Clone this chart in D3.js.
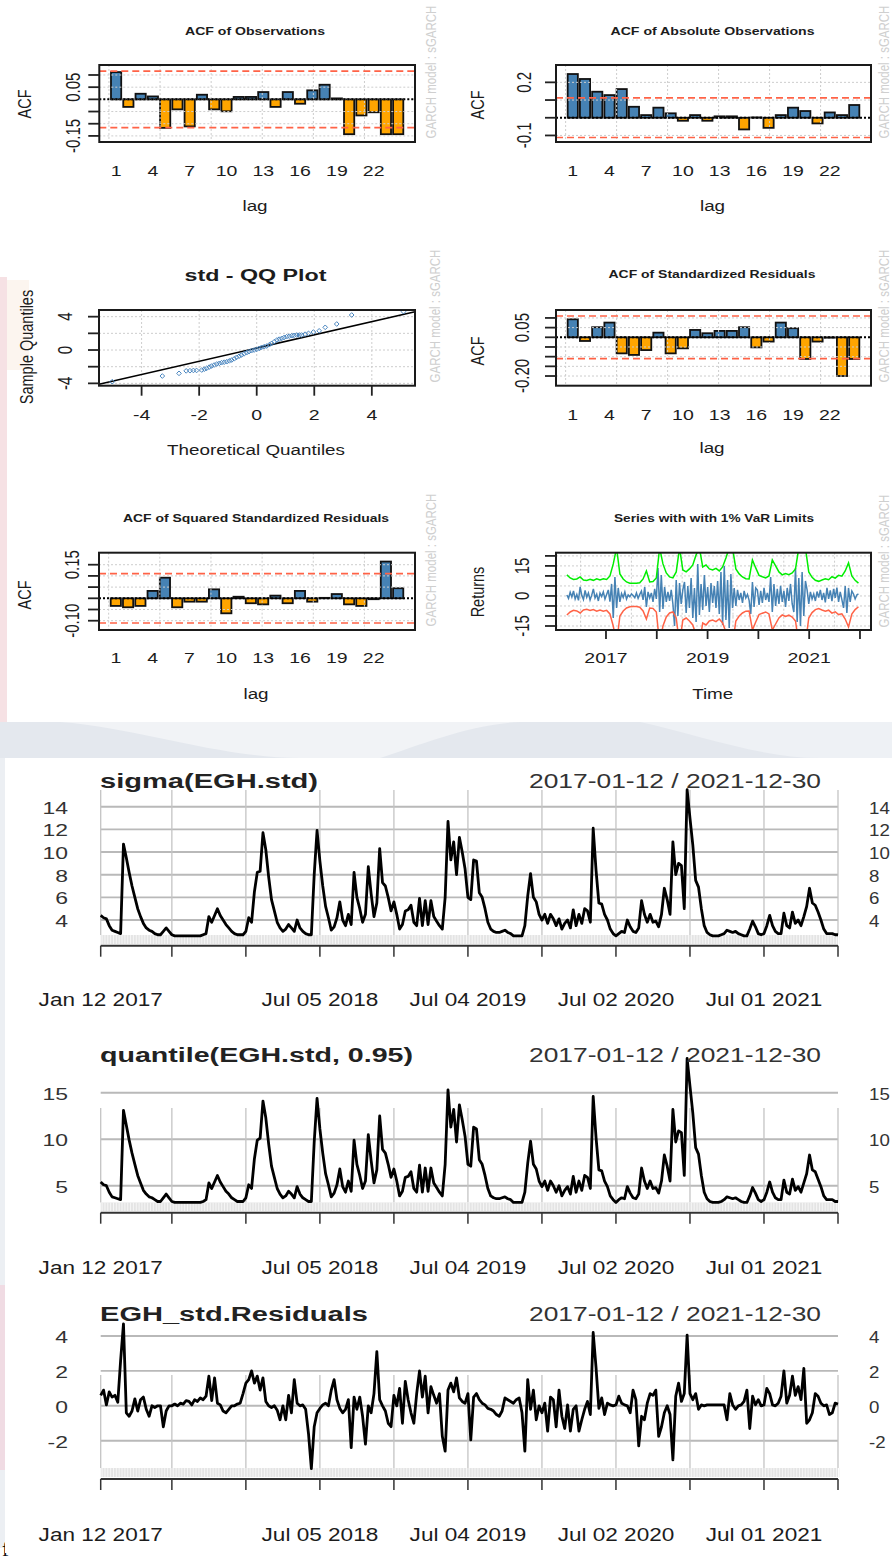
<!DOCTYPE html>
<html>
<head>
<meta charset="utf-8">
<title>EGH std GARCH diagnostics</title>
<script src="https://cdn.jsdelivr.net/npm/d3@7/dist/d3.min.js"></script>
<style>
  body { margin: 0; background: #fff; }
  svg { display: block; font-family: "Liberation Sans", Arial, Helvetica, sans-serif; }
</style>
</head>
<body>
<div id="chart"></div>
<script>
// ---------- data ----------
var lagsShown = [1, 4, 7, 10, 13, 16, 19, 22];
var acfObs = [0.112, -0.031, 0.023, 0.012, -0.117, -0.041, -0.111, 0.019, -0.041, -0.049, 0.010, 0.010,
              0.030, -0.031, 0.030, -0.018, 0.037, 0.060, 0.004, -0.143, -0.066, -0.053, -0.143, -0.143];
var acfAbs = [0.247, 0.219, 0.147, 0.128, 0.162, 0.062, 0.015, 0.057, 0.025, -0.017, 0.015, -0.017,
              0.008, 0.008, -0.066, 0.002, -0.057, 0.015, 0.057, 0.038, -0.032, 0.030, 0.015, 0.072];
var acfStdRes = [0.093, -0.019, 0.052, 0.076, -0.083, -0.091, -0.066, 0.024, -0.083, -0.057, 0.038, 0.021,
                 0.033, 0.033, 0.052, -0.052, -0.022, 0.076, 0.047, -0.112, -0.022, -0.002, -0.200, -0.112];
var acfSqStdRes = [-0.034, -0.040, -0.034, 0.033, 0.092, -0.040, -0.015, -0.015, 0.040, -0.067, 0.007, -0.022,
                   -0.027, 0.012, -0.022, 0.033, -0.015, 0.002, 0.019, -0.027, -0.034, -0.004, 0.164, 0.045];

var qqTheoretical = [-5.02, -3.28, -2.70, -2.45, -2.32, -2.2, -2.09, -1.91, -1.82, -1.74, -1.65, -1.57, -1.48, -1.39,
                     -1.30, -1.22, -1.13, -1.04, -0.95, -0.87, -0.78, -0.70, -0.61, -0.53, -0.44, -0.35, -0.27, -0.18,
                     -0.09, 0, 0.09, 0.17, 0.26, 0.35, 0.44, 0.52, 0.61, 0.70, 0.78, 0.87, 0.95, 1.04, 1.13, 1.22,
                     1.30, 1.39, 1.48, 1.56, 1.68, 1.80, 1.97, 2.17, 2.38, 2.78, 3.30, 5.10];
var qqSample = [-3.8, -3.12, -2.8, -2.5, -2.48, -2.45, -2.45, -2.4, -2.3, -2.2, -2.05, -1.92, -1.8, -1.68,
                -1.6, -1.52, -1.46, -1.4, -1.3, -1.2, -1.05, -0.88, -0.74, -0.6, -0.46, -0.32, -0.2, -0.08,
                0.0, 0.08, 0.2, 0.32, 0.4, 0.48, 0.64, 0.8, 1.0, 1.2, 1.3, 1.4, 1.5, 1.6, 1.66, 1.72,
                1.76, 1.8, 1.8, 1.8, 1.9, 2.0, 2.16, 2.3, 2.72, 3.12, 4.2, 4.6];
var qqLineEnds = [[-5.48, -4.1], [5.5, 4.6]];

var varSpan = [2016.23, 2021.97];
var varUpper = [10.5, 9.0, 8.2, 8.5, 9.5, 8.0, 7.7, 8.3, 7.8, 8.6,
                8.0, 8.6, 8.2, 10.0, 16.0, 24, 11.0, 8.5, 7.0, 6.4,
                6.3, 6.3, 6.6, 8.5, 12.5, 7.0, 7.2, 9.0, 24, 16.0,
                11.5, 9.5, 9.0, 12.0, 24, 13.0, 12.0, 13.5, 15.5, 20.5,
                24, 14.5, 15.5, 13.5, 13.0, 13.8, 12.5, 14.5, 19.0, 24,
                24, 13.5, 11.0, 9.5, 8.6, 8.5, 18.0, 14.0, 10.3, 9.6,
                9.0, 10.0, 18.0, 15.0, 12.0, 10.5, 11.2, 10.6, 11.5, 13.5,
                24, 24, 24, 12.0, 9.3, 7.8, 7.3, 8.0, 8.6, 8.1,
                9.6, 8.9, 10.3, 9.9, 12.5, 16.5, 10.0, 7.8, 6.4];
var varLower = [-9.5, -8.0, -7.2, -7.5, -8.5, -7.0, -6.7, -7.3, -6.8, -7.6,
                -7.0, -7.6, -7.2, -9.0, -15.0, -24, -10.0, -7.5, -6.0, -5.4,
                -5.3, -5.3, -5.6, -7.5, -11.5, -6.0, -6.2, -8.0, -24, -15.0,
                -10.5, -8.5, -8.0, -11.0, -24, -12.0, -11.0, -12.5, -14.5, -19.5,
                -24, -13.5, -14.5, -12.5, -12.0, -12.8, -11.5, -13.5, -18.0, -24,
                -24, -12.5, -10.0, -8.5, -7.6, -7.5, -17.0, -13.0, -9.3, -8.6,
                -8.0, -9.0, -17.0, -14.0, -11.0, -9.5, -10.2, -9.6, -10.5, -12.5,
                -24, -24, -24, -11.0, -8.3, -6.8, -6.3, -7.0, -7.6, -7.1,
                -8.6, -7.9, -9.3, -8.9, -11.5, -15.5, -9.0, -6.8, -5.4];
var varReturns = [0.5, -1.2, 1.8, -0.5, 2.5, -1.5, 0.8, -2.2, 4.5, 0.3, -1.8, 2.8, -0.6, 1.5, -2.0, 0.4, 3.5, -1.0,
                  0.9, -2.5, 1.4, -0.3, 2.0, -1.6, 0.7, 3.0, -2.8,
                  6.0, -11.0, 9.5, -6.0, 4.0, -3.0,
                  1.2, -0.8, 2.0, -1.5, 0.5, -0.4, 1.0, 0.2, -0.9, 1.5, -1.2, 0.8, 2.4, -2.0,
                  4.5, -5.5, 2.0, -1.0, 1.5, -3.0, 3.5, -1.5,
                  14.0, -8.0, 10.5, -6.5, 4.5, -3.0, 2.0, -2.5, 3.0, -4.0,
                  -15.0, 8.0, -10.0, 6.5, -4.0, 3.0,
                  7.0, -8.5, 5.0, -6.0, 9.0, -11.0, 4.0, -13.0, 16.0, -9.5, 6.0, -7.0, 10.5, -5.0, 4.5,
                  -8.0, 6.5, -3.5, 5.0, -6.0, 7.5, -9.0, 12.0, -14.5, 15.0, -12.0, 8.0, -16.0, 11.0, -6.0,
                  4.0, -5.0, 3.0, -2.0, 1.5, -3.5, 2.5, -1.0, 0.8, -2.2,
                  -9.0, 7.0, -5.5, 4.0, 3.0, -4.5, 2.5, -3.5, 4.0, -2.0, 1.5, -3.0,
                  9.5, -8.0, 6.0, -5.0, 3.5, -4.0, 5.0, -3.0, 2.5, -5.5, 4.0, -2.5, 6.0, -4.0,
                  -8.0, 14.0, -13.0, 9.0, -15.0, 12.0, -10.0, 7.5,
                  3.0, -4.0, 2.0, -1.5, 1.0, -2.5, 2.2, -0.8, 3.0, -2.0, 1.5, -3.2, 4.0, -1.5, 2.8, -2.6,
                  3.5, -1.0, 4.2, -3.0, 2.0, -1.8,
                  -6.0, 5.0, -8.5, 4.0, -3.0, 2.5, 1.0, -1.5, 0.5, 1.0];
var varYearTicks = [2017, 2018, 2019, 2020, 2021, 2022];
var varYearLabels = [2017, 2019, 2021];

// weekly series 2017-01-12 .. 2021-12-30
var xtsStart = "2017-01-12";
var sigmaVals = [4.4, 4.2, 4.1, 3.5, 3.1, 3.0, 2.9, 2.8, 10.7, 9.5,
  8.2, 7.0, 6.0, 5.0, 4.3, 3.7, 3.3, 3.1, 3.0, 2.8,
  2.7, 2.7, 3.0, 3.3, 3.0, 2.7, 2.6, 2.6, 2.6, 2.6,
  2.6, 2.6, 2.6, 2.6, 2.6, 2.6, 2.7, 2.8, 4.3, 3.8,
  4.4, 5.0, 4.4, 4.0, 3.6, 3.3, 3.0, 2.8, 2.7, 2.7,
  2.7, 3.0, 4.2, 3.8, 6.5, 8.2, 8.3, 11.7, 10.2, 7.8,
  5.8, 4.8, 3.8, 3.3, 3.0, 3.2, 3.6, 3.3, 3.0, 4.0,
  3.3, 3.0, 2.8, 2.7, 2.7, 8.0, 11.9, 9.2, 7.0, 5.2,
  4.2, 3.1, 3.4, 4.2, 5.6, 4.0, 3.5, 4.5, 3.6, 8.2,
  6.0, 5.0, 3.8, 4.5, 8.7, 6.3, 4.3, 5.5, 10.3, 7.3,
  7.0, 6.0, 4.8, 5.6, 4.5, 3.2, 3.6, 4.8, 4.9, 5.3,
  3.8, 3.5, 5.9, 3.5, 5.7, 3.6, 5.7, 4.3, 3.9, 3.5,
  3.2, 6.0, 12.7, 9.3, 10.9, 8.0, 11.3, 10.0, 8.5, 6.0,
  5.8, 9.3, 9.2, 6.4, 6.0, 5.0, 3.8, 3.2, 3.0, 2.9,
  2.9, 3.0, 3.1, 2.9, 2.8, 2.6, 2.6, 2.6, 2.6, 3.5,
  6.1, 8.1, 6.0, 5.6, 4.5, 4.0, 4.5, 3.7, 4.5, 4.1,
  3.5, 4.1, 3.2, 3.7, 4.0, 3.3, 4.9, 3.5, 4.5, 3.7,
  5.0, 4.8, 3.8, 12.1, 8.4, 5.5, 5.4, 4.5, 4.0, 3.2,
  2.8, 2.6, 2.8, 3.0, 2.9, 4.0, 3.4, 3.0, 2.9, 3.3,
  5.7, 4.5, 3.8, 4.5, 3.8, 3.9, 3.4, 4.5, 6.8, 5.8,
  4.5, 10.9, 8.0, 9.0, 8.8, 5.0, 15.5, 13.0, 10.6, 7.5,
  6.9, 5.0, 3.5, 2.9, 2.7, 2.6, 2.6, 2.6, 2.7, 2.8,
  3.1, 3.0, 2.9, 3.0, 2.8, 2.7, 2.6, 2.6, 3.2, 3.9,
  3.4, 2.8, 2.7, 2.8, 3.5, 4.4, 3.5, 3.0, 2.8, 2.8,
  4.6, 3.5, 3.3, 4.7, 3.7, 4.0, 3.5, 4.3, 5.2, 6.8,
  5.5, 5.3, 4.7, 4.0, 3.2, 2.8, 2.8, 2.8, 2.7, 2.7];
var quantileVals = [5.4, 5.1, 5.0, 4.3, 3.8, 3.7, 3.6, 3.5, 13.1, 11.5,
  9.9, 8.5, 7.3, 6.1, 5.3, 4.5, 4.1, 3.8, 3.7, 3.5,
  3.3, 3.3, 3.7, 4.1, 3.7, 3.3, 3.2, 3.2, 3.2, 3.2,
  3.2, 3.2, 3.2, 3.2, 3.2, 3.2, 3.3, 3.5, 5.3, 4.7,
  5.4, 6.1, 5.4, 4.9, 4.4, 4.1, 3.7, 3.5, 3.3, 3.3,
  3.3, 3.7, 5.1, 4.7, 7.9, 9.9, 10.1, 14.1, 12.3, 9.5,
  7.1, 5.9, 4.7, 4.1, 3.7, 3.9, 4.4, 4.1, 3.7, 4.9,
  4.1, 3.7, 3.5, 3.3, 3.3, 9.7, 14.4, 11.1, 8.5, 6.3,
  5.1, 3.8, 4.2, 5.1, 6.8, 4.9, 4.3, 5.5, 4.4, 9.9,
  7.3, 6.1, 4.7, 5.5, 10.5, 7.7, 5.3, 6.7, 12.5, 8.9,
  8.5, 7.3, 5.9, 6.8, 5.5, 3.9, 4.4, 5.9, 6.0, 6.5,
  4.7, 4.3, 7.2, 4.3, 6.9, 4.4, 6.9, 5.3, 4.8, 4.3,
  3.9, 7.3, 15.3, 11.3, 13.2, 9.7, 13.7, 12.1, 10.3, 7.3,
  7.1, 11.3, 11.1, 7.8, 7.3, 6.1, 4.7, 3.9, 3.7, 3.6,
  3.6, 3.7, 3.8, 3.6, 3.5, 3.2, 3.2, 3.2, 3.2, 4.3,
  7.4, 9.8, 7.3, 6.8, 5.5, 4.9, 5.5, 4.5, 5.5, 5.0,
  4.3, 5.0, 3.9, 4.5, 4.9, 4.1, 6.0, 4.3, 5.5, 4.5,
  6.1, 5.9, 4.7, 14.6, 10.2, 6.7, 6.6, 5.5, 4.9, 3.9,
  3.5, 3.2, 3.5, 3.7, 3.6, 4.9, 4.2, 3.7, 3.6, 4.1,
  6.9, 5.5, 4.7, 5.5, 4.7, 4.8, 4.2, 5.5, 8.3, 7.1,
  5.5, 13.2, 9.7, 10.9, 10.7, 6.1, 18.7, 15.7, 12.8, 9.1,
  8.4, 6.1, 4.3, 3.6, 3.3, 3.2, 3.2, 3.2, 3.3, 3.5,
  3.8, 3.7, 3.6, 3.7, 3.5, 3.3, 3.2, 3.2, 3.9, 4.8,
  4.2, 3.5, 3.3, 3.5, 4.3, 5.4, 4.3, 3.7, 3.5, 3.5,
  5.6, 4.3, 4.1, 5.7, 4.5, 4.9, 4.3, 5.3, 6.3, 8.3,
  6.7, 6.5, 5.7, 4.9, 3.9, 3.5, 3.5, 3.5, 3.3, 3.3];
var residualVals = [0.6, 0.9, 0.05, 0.8, 0.5, 0.6, 0.2, 2.6, 4.7, -0.4,
  -0.6, -0.3, 0.4, -0.3, 0.35, 0.5, -0.2, -0.6, 0, -0.1,
  0, 0, -1.2, -0.3, 0, 0, 0.1, 0, 0.15, 0.1,
  0.3, 0.25, 0.05, 0.35, 0.25, 0.45, 0.35, 0.55, 1.7, 0.3,
  1.6, 0.15, 0.05, -0.3, -0.4, -0.2, 0, 0, 0.1, 0.15,
  0.7, 1.3, 1.5, 2.0, 1.3, 1.7, 0.9, 1.6, 0.25, 0,
  -0.1, 0, -0.25, -0.8, 0, -0.8, 0.6, -0.4, 1.5, 0.15,
  0, 0.05, -0.2, -1.6, -3.6, -1.2, -0.4, -0.15, 0.05, 0.15,
  0, 0.9, 1.5, 0.35, -0.15, -0.4, -0.2, 0.35, -2.4, 0.5,
  -0.2, 0.5, -0.6, -2.2, 0, -0.4, 0.7, 3.1, 0.35, 0,
  -0.3, -1.0, -1.2, 0.6, 0, 1.0, -1.0, 1.4, 0.35, -0.4,
  -1.0, 0.7, 2.0, 0.5, 1.7, -0.4, 1.1, 0.6, 0.15, 0.7,
  -1.75, -2.6, 0.9, 1.3, 0.8, 1.6, 0.45, 0.25, 0.15, 0.7,
  -1.95, 0.5, 0.7, 0.35, 0.15, 0.05, -0.15, -0.2, -0.3, -0.5,
  -0.6, -0.3, 0.45, 0.35, 0.25, 0.15, 0.35, 0.45, -0.4, -2.6,
  1.5, -0.2, 0.9, -0.8, 0, -0.4, 0.15, -1.45, 0.5, 0.35,
  -1.2, 0.9, -0.6, -1.3, 0.05, -1.45, -0.2, 0, -1.45, -0.8,
  -0.2, 0.25, -0.5, 4.2, 2.2, -0.15, 0.45, -0.5, 0.15, 0.05,
  0, 0.05, 0.55, 0.15, 0.05, 0, -0.4, 0.9, 0.35, -2.3,
  -0.6, -0.8, 0.15, 0.7, 0.6, 0.9, -1.75, -1.2, -0.4, 0,
  -0.5, -3.1, 0.55, 1.3, 0.25, 0.7, 4.05, 0.7, 0.35, 0.7,
  -0.2, 0.05, 0, 0.05, 0.05, 0.05, 0.05, 0.05, 0.05, 0.05,
  -0.8, 0.7, 0.05, -0.2, 0, 0.05, 0.25, 0.9, -1.3, 0.55,
  0.05, 0.35, 0, 0.05, 1.0, 0.7, 0.05, 0, 0.15, 0.55,
  2.0, 0.15, 0.6, 1.7, 0.6, 1.1, 0.35, 2.15, -1.0, -0.8,
  -0.4, 0.7, 0.55, 0.15, 0, 0.05, -0.5, -0.4, 0.15, 0.1];
var xtsTickDates = ["2017-01-12", "2017-07-06", "2018-01-04", "2018-07-05", "2019-01-03", "2019-07-04",
                    "2020-01-02", "2020-07-02", "2020-12-31", "2021-07-01", "2021-12-30"];
var xtsLabelDates = ["2017-01-12", "2018-07-05", "2019-07-04", "2020-07-02", "2021-07-01"];

// ---------- drawing ----------
var svg = d3.select("#chart").append("svg")
    .attr("width", 892)
    .attr("height", 1560);

// text is stretched sideways like in the pasted screenshot
function addText(g, x, y, s, o) {
    o = o || {};
    var sx = o.sx === undefined ? 1.3 : o.sx;
    var tr = `translate(${x},${y}) scale(${sx},1)` + (o.rot ? ` rotate(${o.rot})` : "");
    var t = g.append("text")
        .attr("transform", tr)
        .attr("text-anchor", o.anchor || "middle")
        .style("font-size", (o.size || 14) + "px")
        .style("font-weight", o.weight || "normal")
        .attr("fill", o.fill || "#1c1c1c")
        .text(s);
    if (o.len) t.attr("textLength", o.len / sx).attr("lengthAdjust", "spacingAndGlyphs");
    return t;
}
var minus = function(s) { return s.replace("\u2212", "-"); };

// page behind the two images
var bg = svg.append("g");
bg.append("rect").attr("width", 892).attr("height", 1560).attr("fill", "#fff");
bg.append("rect").attr("x", 0).attr("y", 277).attr("width", 7).attr("height", 445).attr("fill", "#f6e1e4");
bg.append("rect").attr("x", 7).attr("y", 280).attr("width", 22).attr("height", 90).attr("fill", "#fbf1e8").attr("opacity", 0.7);
bg.append("rect").attr("x", 0).attr("y", 722).attr("width", 892).attr("height", 36).attr("fill", "#e4e8ee");
bg.append("path").attr("d", "M60,722 C140,728 220,758 300,758 L380,758 C420,745 470,724 520,722 Z").attr("fill", "#f1f3f6");
bg.append("path").attr("d", "M640,722 C700,735 760,758 820,758 L892,758 L892,722 Z").attr("fill", "#eef1f5");
bg.append("rect").attr("x", 0).attr("y", 758).attr("width", 5).attr("height", 790).attr("fill", "#eceff3");
bg.append("rect").attr("x", 0).attr("y", 1285).attr("width", 5).attr("height", 185).attr("fill", "#f0dbe3");
bg.append("text").attr("x", 2).attr("y", 1556).style("font-family", "'Liberation Serif', serif")
    .style("font-size", "21px").attr("fill", "#111").text("f");

// ----- rugarch style ACF panel -----
function acfPanel(vals, p) {
    var g = svg.append("g");
    var x = d3.scaleLinear().domain([-0.944, 29.944]).range([p.x0, p.x1]);
    var y = d3.scaleLinear().domain(p.ydom).range([p.y1, p.y0]);
    var fmt = d3.format(p.fmt);

    g.selectAll(".bar").data(vals).join("rect")
        .attr("x", (d, i) => x(0.2 + 1.2 * i))
        .attr("width", x(1) - x(0))
        .attr("y", d => y(Math.max(d, 0)))
        .attr("height", d => Math.abs(y(d) - y(0)))
        .attr("fill", d => d >= 0 ? "#4682b4" : "#ffa500")
        .attr("stroke", "#111")
        .attr("stroke-width", 1.8);

    // grid
    g.selectAll(".vg").data([0, 5, 10, 15, 20, 25]).join("line")
        .attr("x1", d => x(d)).attr("x2", d => x(d))
        .attr("y1", p.y0).attr("y2", p.y1)
        .attr("stroke", "#cdcdcd").attr("stroke-dasharray", "2,2");
    g.selectAll(".hg").data(p.ticks).join("line")
        .attr("x1", p.x0).attr("x2", p.x1)
        .attr("y1", d => y(d)).attr("y2", d => y(d))
        .attr("stroke", "#cdcdcd").attr("stroke-dasharray", "2,2");

    g.selectAll(".cl").data([p.clim, -p.clim]).join("line")
        .attr("x1", p.x0).attr("x2", p.x1)
        .attr("y1", d => y(d)).attr("y2", d => y(d))
        .attr("stroke", "#ff6347").attr("stroke-width", 1.6).attr("stroke-dasharray", "7,4");
    g.append("line")
        .attr("x1", p.x0).attr("x2", p.x1).attr("y1", y(0)).attr("y2", y(0))
        .attr("stroke", "#000").attr("stroke-width", 2).attr("stroke-dasharray", "2,2");

    g.append("rect").attr("x", p.x0).attr("y", p.y0)
        .attr("width", p.x1 - p.x0).attr("height", p.y1 - p.y0)
        .attr("fill", "none").attr("stroke", "#1a1a1a").attr("stroke-width", 2);

    g.selectAll(".yt").data(p.ticks).join("line")
        .attr("x1", p.x0 - 11).attr("x2", p.x0)
        .attr("y1", d => y(d)).attr("y2", d => y(d))
        .attr("stroke", "#222").attr("stroke-width", 1.8);
    p.shown.forEach(function(v) {
        addText(g, p.tickX, y(v), minus(fmt(v)), {size: 15, rot: -90});
    });
    lagsShown.forEach(function(l) {
        addText(g, x(0.7 + 1.2 * (l - 1)), p.lagY, String(l), {size: 15});
    });
    addText(g, p.tx, p.ty, p.title, {size: 10.5, weight: "bold", sx: 1, len: p.tlen});
    addText(g, p.tx, p.xlabY, "lag", {size: 14.5});
    addText(g, p.ylabX, p.ylabY, "ACF", {size: 14.5, rot: -90});
    addText(g, p.wmX, p.wmY, "GARCH model : sGARCH", {size: 11.5, rot: -90, fill: "#cfcfcf"});
}

acfPanel(acfObs, {x0: 99.3, x1: 415, y0: 65, y1: 142, ydom: [-0.175, 0.141], fmt: ".2f",
    ticks: [0.10, 0.05, 0, -0.05, -0.10, -0.15], shown: [0.05, -0.15], clim: 0.116,
    title: "ACF of Observations", tx: 255, ty: 35, tlen: 140, lagY: 176, xlabY: 211,
    ylabX: 31, ylabY: 104, tickX: 80, wmX: 436, wmY: 72});
acfPanel(acfAbs, {x0: 556, x1: 871, y0: 65, y1: 142, ydom: [-0.137, 0.298], fmt: ".1f",
    ticks: [0.2, 0.1, 0, -0.1], shown: [0.2, -0.1], clim: 0.112,
    title: "ACF of Absolute Observations", tx: 712.5, ty: 35, tlen: 204, lagY: 176, xlabY: 211,
    ylabX: 484, ylabY: 105, tickX: 531, wmX: 889, wmY: 72});
acfPanel(acfStdRes, {x0: 556, x1: 871, y0: 310, y1: 385.7, ydom: [-0.250, 0.141], fmt: ".2f",
    ticks: [0.10, 0.05, 0, -0.05, -0.10, -0.15, -0.20], shown: [0.05, -0.20], clim: 0.11,
    title: "ACF of Standardized Residuals", tx: 712, ty: 278, tlen: 207, lagY: 420, xlabY: 453,
    ylabX: 484, ylabY: 351, tickX: 529, wmX: 889, wmY: 316});
acfPanel(acfSqStdRes, {x0: 99, x1: 415, y0: 552.7, y1: 630, ydom: [-0.1415, 0.2036], fmt: ".2f",
    ticks: [0.15, 0.10, 0.05, 0, -0.05, -0.10], shown: [0.15, -0.10], clim: 0.11,
    title: "ACF of Squared Standardized Residuals", tx: 256, ty: 522, tlen: 266, lagY: 663, xlabY: 699,
    ylabX: 31, ylabY: 595, tickX: 79, wmX: 436, wmY: 560});

// ----- QQ plot -----
(function() {
    var g = svg.append("g");
    var b = {x0: 99, x1: 415, y0: 310, y1: 385.7};
    var x = d3.scaleLinear().domain([-5.48, 5.5]).range([b.x0, b.x1]);
    var y = d3.scaleLinear().domain([-4.28, 4.8]).range([b.y1, b.y0]);
    var ticks = [-4, -2, 0, 2, 4];
    g.selectAll(".vg").data(ticks).join("line")
        .attr("x1", d => x(d)).attr("x2", d => x(d)).attr("y1", b.y0).attr("y2", b.y1)
        .attr("stroke", "#cdcdcd").attr("stroke-dasharray", "2,2");
    g.selectAll(".hg").data(ticks).join("line")
        .attr("x1", b.x0).attr("x2", b.x1).attr("y1", d => y(d)).attr("y2", d => y(d))
        .attr("stroke", "#cdcdcd").attr("stroke-dasharray", "2,2");
    g.append("line")
        .attr("x1", x(qqLineEnds[0][0])).attr("y1", y(qqLineEnds[0][1]))
        .attr("x2", x(qqLineEnds[1][0])).attr("y2", y(qqLineEnds[1][1]))
        .attr("stroke", "#000").attr("stroke-width", 1.5);
    var diamond = d3.symbol().type(d3.symbolDiamond2).size(14);
    g.selectAll(".pt").data(qqTheoretical).join("path")
        .attr("d", diamond)
        .attr("transform", (d, i) => `translate(${x(d)},${y(qqSample[i])})`)
        .attr("fill", "none").attr("stroke", "#4a86c0").attr("stroke-width", 1);
    g.append("rect").attr("x", b.x0).attr("y", b.y0).attr("width", b.x1 - b.x0).attr("height", b.y1 - b.y0)
        .attr("fill", "none").attr("stroke", "#1a1a1a").attr("stroke-width", 2);
    g.selectAll(".xt").data(ticks).join("line")
        .attr("x1", d => x(d)).attr("x2", d => x(d)).attr("y1", b.y1).attr("y2", b.y1 + 10)
        .attr("stroke", "#222").attr("stroke-width", 1.8);
    g.selectAll(".yt").data(ticks).join("line")
        .attr("x1", b.x0 - 11).attr("x2", b.x0).attr("y1", d => y(d)).attr("y2", d => y(d))
        .attr("stroke", "#222").attr("stroke-width", 1.8);
    ticks.forEach(function(t) { addText(g, x(t), 420, String(t), {size: 15}); });
    [4, 0, -4].forEach(function(t) { addText(g, 72, y(t), String(t), {size: 15, rot: -90}); });
    addText(g, 255.5, 281, "std - QQ Plot", {size: 16, weight: "bold", sx: 1, len: 142});
    addText(g, 256, 455, "Theoretical Quantiles", {size: 14.5});
    addText(g, 33, 347, "Sample Quantiles", {size: 14.5, rot: -90});
    addText(g, 440, 316, "GARCH model : sGARCH", {size: 11.5, rot: -90, fill: "#cfcfcf"});
})();

// ----- series with VaR limits -----
(function() {
    var g = svg.append("g");
    var b = {x0: 556, x1: 871, y0: 552.7, y1: 630};
    var x = d3.scaleLinear().domain([2016.016, 2022.217]).range([b.x0, b.x1]);
    var y = d3.scaleLinear().domain([-17, 21.6]).range([b.y1, b.y0]);
    var yt = [20, 15, 10, 5, 0, -5, -10, -15];
    var grid = [2016.5, 2017.5, 2018.5, 2019.5, 2020.5, 2021.5];
    g.selectAll(".vg").data(grid).join("line")
        .attr("x1", d => x(d)).attr("x2", d => x(d)).attr("y1", b.y0).attr("y2", b.y1)
        .attr("stroke", "#cdcdcd").attr("stroke-dasharray", "2,2");
    g.selectAll(".hg").data(yt).join("line")
        .attr("x1", b.x0).attr("x2", b.x1).attr("y1", d => y(d)).attr("y2", d => y(d))
        .attr("stroke", "#cdcdcd").attr("stroke-dasharray", "2,2");

    svg.append("clipPath").attr("id", "varclip").append("rect")
        .attr("x", b.x0).attr("y", b.y0).attr("width", b.x1 - b.x0).attr("height", b.y1 - b.y0);
    var lines = g.append("g").attr("clip-path", "url(#varclip)");
    function tline(arr) {
        var step = (varSpan[1] - varSpan[0]) / (arr.length - 1);
        return d3.line().x((d, i) => x(varSpan[0] + i * step)).y(d => y(d))(arr);
    }
    lines.append("path").attr("d", tline(varReturns)).attr("fill", "none")
        .attr("stroke", "#4682b4").attr("stroke-width", 1.5);
    lines.append("path").attr("d", tline(varUpper)).attr("fill", "none")
        .attr("stroke", "#00ee00").attr("stroke-width", 1.5);
    lines.append("path").attr("d", tline(varLower)).attr("fill", "none")
        .attr("stroke", "#ff6347").attr("stroke-width", 1.5);

    g.append("rect").attr("x", b.x0).attr("y", b.y0).attr("width", b.x1 - b.x0).attr("height", b.y1 - b.y0)
        .attr("fill", "none").attr("stroke", "#1a1a1a").attr("stroke-width", 2);
    g.selectAll(".xt").data(varYearTicks).join("line")
        .attr("x1", d => x(d)).attr("x2", d => x(d)).attr("y1", b.y1).attr("y2", b.y1 + 9)
        .attr("stroke", "#222").attr("stroke-width", 1.8);
    g.selectAll(".yt").data(yt).join("line")
        .attr("x1", b.x0 - 11).attr("x2", b.x0).attr("y1", d => y(d)).attr("y2", d => y(d))
        .attr("stroke", "#222").attr("stroke-width", 1.8);
    varYearLabels.forEach(function(t) { addText(g, x(t), 663, String(t), {size: 15}); });
    [15, 0, -15].forEach(function(t) { addText(g, 529, y(t), String(t), {size: 15, rot: -90}); });
    addText(g, 714, 522, "Series with with 1% VaR Limits", {size: 10.5, weight: "bold", sx: 1, len: 200});
    addText(g, 712.7, 699, "Time", {size: 14.5});
    addText(g, 484, 592, "Returns", {size: 14.5, rot: -90});
    addText(g, 889, 561, "GARCH model : sGARCH", {size: 11.5, rot: -90, fill: "#cfcfcf"});
})();

// ----- xts style panels -----
var parseDay = d3.utcParse("%Y-%m-%d");
var startDay = parseDay(xtsStart);
var weekDates = sigmaVals.map((d, i) => d3.utcDay.offset(startDay, 7 * i));
var tickDates = xtsTickDates.map(parseDay);
var labelDates = xtsLabelDates.map(parseDay);
var xTime = d3.scaleUtc().domain([startDay, weekDates[weekDates.length - 1]]).range([100.7, 838]);
var fmtDay = d3.utcFormat("%b %d %Y");

svg.append("rect").attr("x", 5).attr("y", 758).attr("width", 887).attr("height", 795).attr("fill", "#fff");

function xtsPanel(vals, c) {
    var g = svg.append("g");
    var y = d3.scaleLinear().domain(c.ydom).range(c.yrng);
    var r = xTime.range();

    g.selectAll(".hg").data(c.grid).join("line")
        .attr("x1", r[0]).attr("x2", r[1]).attr("y1", d => y(d)).attr("y2", d => y(d))
        .attr("stroke", "#b9b9b9").attr("stroke-width", 1.9);
    g.selectAll(".vg").data(tickDates).join("line")
        .attr("x1", d => xTime(d)).attr("x2", d => xTime(d)).attr("y1", c.vTop).attr("y2", c.bandTop)
        .attr("stroke", "#c4c4c4").attr("stroke-width", 1.3);
    g.append("rect").attr("x", r[0]).attr("y", c.bandTop).attr("width", r[1] - r[0])
        .attr("height", c.bandBot - c.bandTop).attr("fill", "#e4e4e4");
    g.selectAll(".bt").data(weekDates).join("line")
        .attr("x1", d => xTime(d) + 1.4).attr("x2", d => xTime(d) + 1.4)
        .attr("y1", c.bandTop).attr("y2", c.bandBot)
        .attr("stroke", "#f6f6f6").attr("stroke-width", 1);
    g.append("line").attr("x1", r[0]).attr("x2", r[1]).attr("y1", c.axisY).attr("y2", c.axisY)
        .attr("stroke", "#333").attr("stroke-width", 2);
    g.selectAll(".xt").data(tickDates).join("line")
        .attr("x1", d => xTime(d)).attr("x2", d => xTime(d)).attr("y1", c.axisY).attr("y2", c.axisY + 11)
        .attr("stroke", "#333").attr("stroke-width", 1.5);
    labelDates.forEach(function(d) {
        addText(g, xTime(d), c.labelY, fmtDay(d), {size: 18.5, sx: 1.22});
    });

    g.append("path").datum(vals)
        .attr("d", d3.line().x((d, i) => xTime(weekDates[i])).y(d => y(d)))
        .attr("fill", "none").attr("stroke", "#000").attr("stroke-width", 2.8)
        .attr("stroke-linejoin", "round");

    c.grid.forEach(function(v) {
        addText(g, 68, y(v) + 7, String(v), {size: 17, sx: 1.35, anchor: "end", fill: "#333"});
        addText(g, 869, y(v) + 7, String(v), {size: 17, sx: 1.1, anchor: "start", fill: "#333"});
    });
    addText(g, 100, c.titleY, c.title, {size: 20, weight: "bold", sx: 1, len: c.titleLen, anchor: "start", fill: "#222"});
    addText(g, 529, c.titleY, "2017-01-12 / 2021-12-30", {size: 20.5, sx: 1, len: 292, anchor: "start", fill: "#333"});
}

xtsPanel(sigmaVals, {ydom: [4, 14], yrng: [920, 806.7], grid: [14, 12, 10, 8, 6, 4],
    vTop: 790, bandTop: 935, bandBot: 944, axisY: 945.7, labelY: 1006,
    titleY: 788, title: "sigma(EGH.std)", titleLen: 218});
xtsPanel(quantileVals, {ydom: [5, 15], yrng: [1185.7, 1092.7], grid: [15, 10, 5],
    vTop: 1108, bandTop: 1202.5, bandBot: 1211, axisY: 1212.7, labelY: 1274,
    titleY: 1062, title: "quantile(EGH.std, 0.95)", titleLen: 313});
xtsPanel(residualVals, {ydom: [-2, 4], yrng: [1440.7, 1336], grid: [4, 2, 0, -2],
    vTop: 1375, bandTop: 1468, bandBot: 1477, axisY: 1479, labelY: 1541,
    titleY: 1321, title: "EGH_std.Residuals", titleLen: 268});
</script>
</body>
</html>
